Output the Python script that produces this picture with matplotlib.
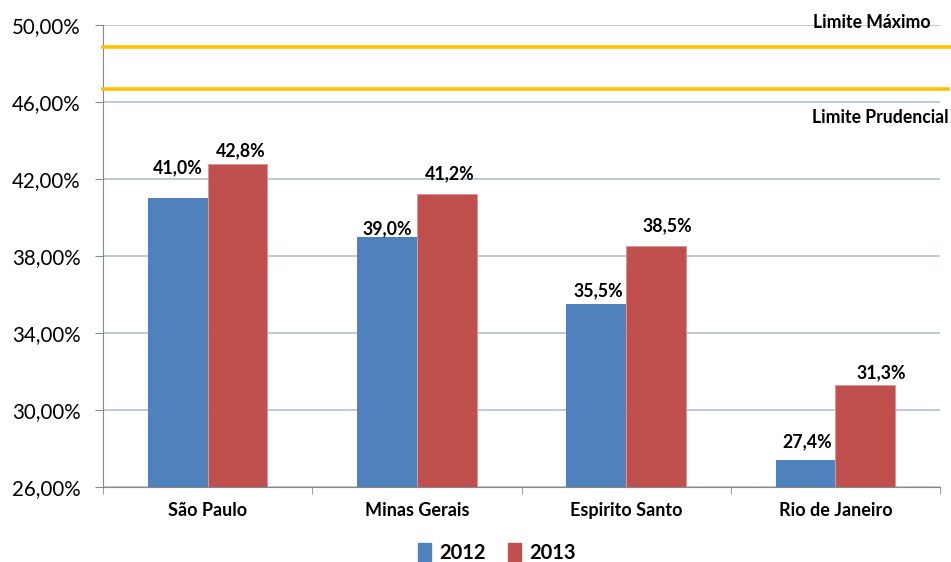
import matplotlib
matplotlib.use("Agg")
import matplotlib.pyplot as plt
from matplotlib.patches import Patch
import numpy as np

categories = ["São Paulo", "Minas Gerais", "Espirito Santo", "Rio de Janeiro"]
v2012 = [41.0, 39.0, 35.5, 27.4]
v2013 = [42.8, 41.2, 38.5, 31.3]
labels2012 = ["41,0%", "39,0%", "35,5%", "27,4%"]
labels2013 = ["42,8%", "41,2%", "38,5%", "31,3%"]
limite_maximo = 48.86
limite_prudencial = 46.65
yticks = [26, 30, 34, 38, 42, 46, 50]
ytick_labels = ["26,00%", "30,00%", "34,00%", "38,00%", "42,00%", "46,00%", "50,00%"]

# label offsets (pixels) from bar top centre, as placed in the original
off2012 = [(0, 30), (0, 8), (2, 13), (2, 18)]
off2013 = [(3, 13), (3, 21), (11, 21), (16, 12)]

plt.rcParams['font.family'] = ['Lato', 'DejaVu Sans']

fig = plt.figure(figsize=(9.51, 5.62), dpi=100)
ax = fig.add_axes([103/951, 1-487/562, (940-103)/951, (487-25)/562])

blue = "#4F81BD"
red = "#C0504D"
x = np.arange(len(categories))
w = 0.285
ax.bar(x - w/2, v2012, w, color=blue, zorder=3)
ax.bar(x + w/2, v2013, w, color=red, zorder=3, edgecolor="#D99694", linewidth=0.6)

ax.set_ylim(26, 50)
ax.set_xlim(-0.5, 3.5)
ax.set_yticks(yticks)
ax.set_yticklabels(ytick_labels, fontsize=14.8)
ax.set_xticks(x)
ax.set_xticklabels(categories, fontsize=13, fontweight="bold")
ax.tick_params(axis="x", length=0, pad=11)
ax.set_xticks(np.arange(-0.5, 4, 1), minor=True)
ax.tick_params(axis="x", which="minor", length=5, color="#888888", direction="out")
ax.tick_params(axis="y", length=6, color="#888888", pad=10)
ax.yaxis.grid(True, color="#B3C0D4", linewidth=1.2, zorder=0)
ax.set_axisbelow(True)
for s in ["top", "right"]:
    ax.spines[s].set_visible(False)
ax.spines["left"].set_color("#888888")
ax.spines["bottom"].set_color("#888888")

# limit lines
ax.axhline(limite_maximo, xmin=0, xmax=1.014, color="#FFC000", linewidth=2.6, clip_on=False, zorder=4)
ax.axhline(limite_prudencial, xmin=0, xmax=1.009, color="#FFC000", linewidth=2.6, clip_on=False, zorder=4)
ax.text(3.455, 50.15, "Limite Máximo", ha="right", va="center", fontsize=12.7, fontweight="bold", clip_on=False)
ax.text(3.54, 45.2, "Limite Prudencial", ha="right", va="center", fontsize=12.7, fontweight="bold", clip_on=False)

for i in range(len(categories)):
    ax.annotate(labels2012[i], (x[i] - w/2, v2012[i]),
                xytext=(off2012[i][0]*0.72, off2012[i][1]*0.72), textcoords="offset points",
                ha="center", va="center", fontsize=12.8, fontweight="bold")
    ax.annotate(labels2013[i], (x[i] + w/2, v2013[i]),
                xytext=(off2013[i][0]*0.72, off2013[i][1]*0.72), textcoords="offset points",
                ha="center", va="center", fontsize=12.8, fontweight="bold")

handles = [Patch(color=blue, label="2012"), Patch(color=red, label="2013")]
fig.legend(handles=handles, loc="center", bbox_to_anchor=(497/951, 1-553/562), ncol=2,
           frameon=False, prop={"size": 14.5, "weight": "bold"}, handlelength=0.65, handleheight=1.0,
           handletextpad=0.4, columnspacing=1.1)

fig.savefig("out.png", dpi=100)
